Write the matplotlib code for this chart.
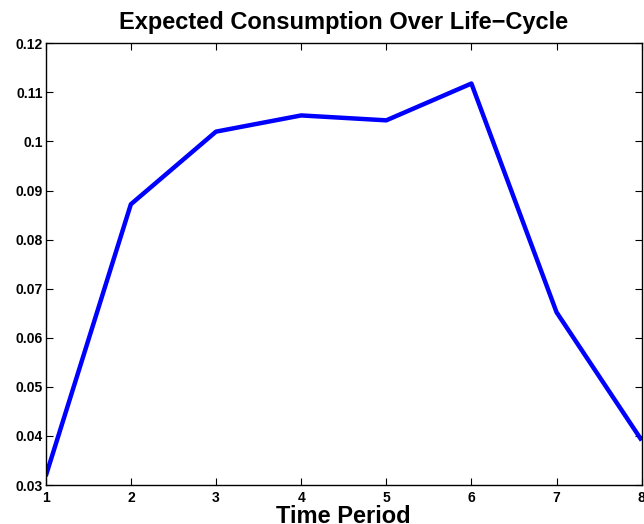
import matplotlib
matplotlib.use('Agg')
import matplotlib.pyplot as plt

periods = [1, 2, 3, 4, 5, 6, 7, 8]
consumption = [0.0318, 0.0872, 0.1020, 0.1053, 0.1043, 0.1118, 0.0652, 0.0391]
yticks = [0.03, 0.04, 0.05, 0.06, 0.07, 0.08, 0.09, 0.1, 0.11, 0.12]
ytick_labels = ['0.03', '0.04', '0.05', '0.06', '0.07', '0.08', '0.09', '0.1', '0.11', '0.12']

plt.rcParams['font.family'] = ['Liberation Sans', 'DejaVu Sans']
plt.rcParams['font.weight'] = 'bold'

fig = plt.figure(figsize=(6.44, 5.24), dpi=100)
ax = fig.add_axes([0.071, 0.0744, 0.9254, 0.843])

ax.plot(periods, consumption, color=(0, 0, 1), linewidth=3.2, solid_capstyle='butt')
ax.set_xlim(1, 8)
ax.set_ylim(0.03, 0.12)
ax.set_xticks(periods)
ax.set_yticks(yticks)
ax.set_yticklabels(ytick_labels)
ax.tick_params(direction='in', length=5, width=0.8, top=True, right=True,
               labelsize=10)
ax.tick_params(axis='x', pad=4)
ax.tick_params(axis='y', pad=2)
for lab in ax.get_xticklabels() + ax.get_yticklabels():
    lab.set_fontweight('bold')
for s in ax.spines.values():
    s.set_linewidth(1.0)

ax.set_title('Expected Consumption Over Life\u2212Cycle', fontsize=17, fontweight='bold', pad=10)
ax.set_xlabel('Time Period', fontsize=17, fontweight='bold')
ax.xaxis.set_label_coords(0.5, -0.046)

fig.savefig('out.png', dpi=100)
